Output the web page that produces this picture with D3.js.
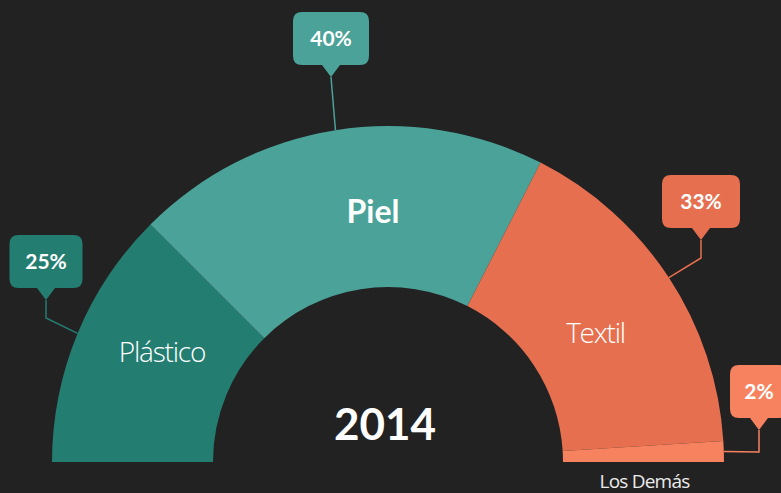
<!DOCTYPE html>
<html>
<head>
	<meta charset="utf-8">
	<title>2014</title>
	<style type="text/css">
		html, body {
			margin: 0;
			padding: 0;
			background: #222222;
			overflow: hidden;
		}
		svg text {
			font-family: "Lato", "Open Sans", sans-serif;
		}
		svg text.light {
			font-family: "Open Sans", "Lato", sans-serif;
		}
	</style>
</head>
<body>
	<div id="chart"></div>
	<script src="https://cdn.jsdelivr.net/npm/d3@7"></script>
	<script type="text/javascript">
		// data
		var categories = ["Plástico", "Piel", "Textil", "Los Demás"];
		var shares = [25, 40, 33, 2];
		var shareLabels = ["25%", "40%", "33%", "2%"];
		var year = "2014";

		var colors = ["#247d71", "#4aa298", "#e66f4f", "#f6825f"];

		var width = 781,
			height = 493,
			cx = 388,
			cy = 462,
			outerR = 336,
			innerR = 175;

		// callout boxes: tip of the pointer, box width, elbow length
		var callouts = [
			{ tipX: 46, tipY: 300, w: 73, elbow: 18 },
			{ tipX: 331, tipY: 77, w: 76, elbow: 0 },
			{ tipX: 701, tipY: 240, w: 78, elbow: 18 },
			{ tipX: 759, tipY: 430, w: 58, elbow: 22 }
		];

		var svg = d3.select('#chart')
			.append('svg')
			.attr('width', width)
			.attr('height', height);

		var g = svg.append('g')
			.attr('transform', 'translate(' + cx + ',' + cy + ')');

		var pie = d3.pie()
			.sort(null)
			.startAngle(-Math.PI / 2)
			.endAngle(Math.PI / 2);

		var arcs = pie(shares);

		var arc = d3.arc().innerRadius(innerR).outerRadius(outerR);
		var edgeArc = d3.arc().innerRadius(outerR).outerRadius(outerR);

		g.selectAll('path.slice')
			.data(arcs)
			.enter()
			.append('path')
			.attr('class', 'slice')
			.attr('d', arc)
			.attr('fill', function(d, i) { return colors[i]; });

		// labels inside slices
		var labelStyle = [
			{ size: 28, weight: 300, dx: 10, dy: -2, cls: 'light' },
			{ size: 32, weight: 700, dx: 25, dy: 13, cls: '' },
			{ size: 28, weight: 300, dx: -6, dy: 21, cls: 'light' }
		];
		arcs.slice(0, 3).forEach(function(d, i) {
			var c = arc.centroid(d);
			var s = labelStyle[i];
			g.append('text')
				.attr('class', s.cls)
				.attr('x', c[0] + s.dx)
				.attr('y', c[1] + s.dy)
				.attr('text-anchor', 'middle')
				.attr('fill', '#ffffff')
				.attr('font-size', s.size)
				.attr('font-weight', s.weight)
				.attr('letter-spacing', i == 1 ? 0 : -1.2)
				.text(categories[i]);
		});

		// "Los Demás" under the arc
		g.append('text')
			.attr('class', 'light')
			.attr('x', (innerR + outerR) / 2 + 1)
			.attr('y', 26)
			.attr('text-anchor', 'middle')
			.attr('fill', '#ececec')
			.attr('font-size', 19)
			.attr('font-weight', 400)
			.attr('letter-spacing', -0.8)
			.text(categories[3]);

		// year in the middle
		g.append('text')
			.attr('x', -3)
			.attr('y', -22)
			.attr('text-anchor', 'middle')
			.attr('fill', '#ffffff')
			.attr('font-size', 44)
			.attr('font-weight', 700)
			.text(year);

		// callouts
		var boxH = 53, tipH = 12, tipW = 18, rr = 9;
		arcs.forEach(function(d, i) {
			var co = callouts[i];
			var a = edgeArc.centroid(d);
			var ax = a[0] + cx, ay = a[1] + cy;
			var ex = co.tipX, ey = co.tipY + co.elbow;

			svg.append('polyline')
				.attr('points', [[co.tipX, co.tipY], [ex, ey], [ax, ay]].join(' '))
				.attr('fill', 'none')
				.attr('stroke', colors[i])
				.attr('stroke-width', 1.5);

			var bx = co.tipX - co.w / 2,
				by = co.tipY - tipH - boxH;

			var p = d3.path();
			p.moveTo(bx + rr, by);
			p.lineTo(bx + co.w - rr, by);
			p.quadraticCurveTo(bx + co.w, by, bx + co.w, by + rr);
			p.lineTo(bx + co.w, by + boxH - rr);
			p.quadraticCurveTo(bx + co.w, by + boxH, bx + co.w - rr, by + boxH);
			p.lineTo(co.tipX + tipW / 2, by + boxH);
			p.lineTo(co.tipX, co.tipY);
			p.lineTo(co.tipX - tipW / 2, by + boxH);
			p.lineTo(bx + rr, by + boxH);
			p.quadraticCurveTo(bx, by + boxH, bx, by + boxH - rr);
			p.lineTo(bx, by + rr);
			p.quadraticCurveTo(bx, by, bx + rr, by);
			p.closePath();

			svg.append('path')
				.attr('d', p.toString())
				.attr('fill', colors[i]);

			svg.append('text')
				.attr('x', co.tipX)
				.attr('y', by + boxH / 2 + 7.5)
				.attr('text-anchor', 'middle')
				.attr('fill', '#ffffff')
				.attr('font-size', 21)
				.attr('font-weight', 700)
				.text(shareLabels[i]);
		});
	</script>
</body>
</html>
